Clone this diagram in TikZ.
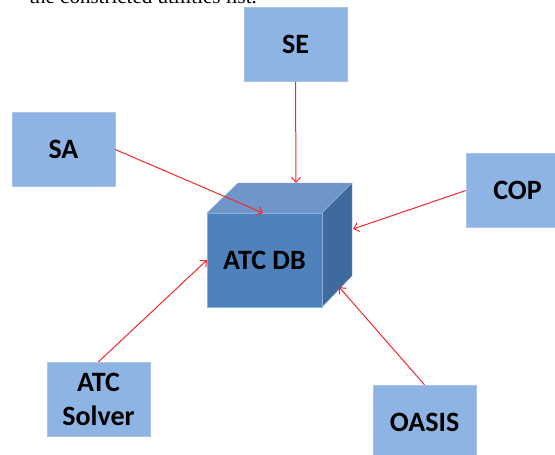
\documentclass[tikz,border=0pt]{standalone}
\usepackage{fontspec}
\newfontfamily\boxfont{Carlito}
\newfontfamily\pagefont{Liberation Serif}
\usetikzlibrary{calc}
\usetikzlibrary{arrows.meta}

\definecolor{boxblue}{HTML}{8EB4E3}
\definecolor{boxline}{HTML}{A9C4E8}
\definecolor{frontblue}{HTML}{4F81BD}
\definecolor{topblue}{HTML}{7096C9}
\definecolor{sideblue}{HTML}{3F6A9E}
\definecolor{cubeline}{HTML}{8DB1DE}
\definecolor{linkred}{HTML}{F5262B}

\begin{document}
\begin{tikzpicture}[x=1pt,y=-1pt,
  unit/.style={fill=boxblue, draw=boxline, minimum width=103, minimum height=74, inner sep=0pt, align=center, font=\boxfont\bfseries\fontsize{28}{34}\selectfont},
  link/.style={->, >={Straight Barb[length=5pt,width=9pt]}, linkred, line width=1pt}]
  \useasboundingbox (0,0) rectangle (555,455);
  \clip (0,0) rectangle (555,455);
  \node [anchor=base east, inner sep=0pt, font=\pagefont\fontsize{21}{21}\selectfont] (caption) at (257,4) {the constricted utilities list.};

  % cube
  \filldraw [fill=topblue, draw=cubeline] (207,213) -- (238,183) -- (352,183) -- (322,213) -- cycle;
  \filldraw [fill=sideblue, draw=cubeline] (322,213) -- (352,183) -- (352,276) -- (322,307) -- cycle;
  \node [draw=cubeline, fill=frontblue, minimum width=115, minimum height=94, inner sep=0pt, font=\boxfont\bfseries\fontsize{28}{34}\selectfont] (db) at (264.5,260) {ATC DB};
  \coordinate (in-se) at (296,183);
  \coordinate (in-sa) at (263,213);
  \coordinate (in-cop) at (353,229);
  \coordinate (in-oasis) at (339,287);
  \coordinate (in-solver) at (207,260);

  \node [unit] (se) at (295.5,44.5) {SE};
  \node [unit] (sa) at (63.5,149.5) {SA};
  \node [unit] (cop) at (517.5,190.5) {COP};
  \node [unit] (solver) at (98.5,399) {ATC\\Solver};
  \node [unit] (oasis) at (424.5,422) {OASIS};

  \draw [link] (se.south) -- (in-se);
  \draw [link] (sa.east) -- (in-sa);
  \draw [link] (cop.west) -- (in-cop);
  \draw [link] (solver.north) -- (in-solver);
  \draw [link] (oasis.north) -- (in-oasis);
\end{tikzpicture}
\end{document}
